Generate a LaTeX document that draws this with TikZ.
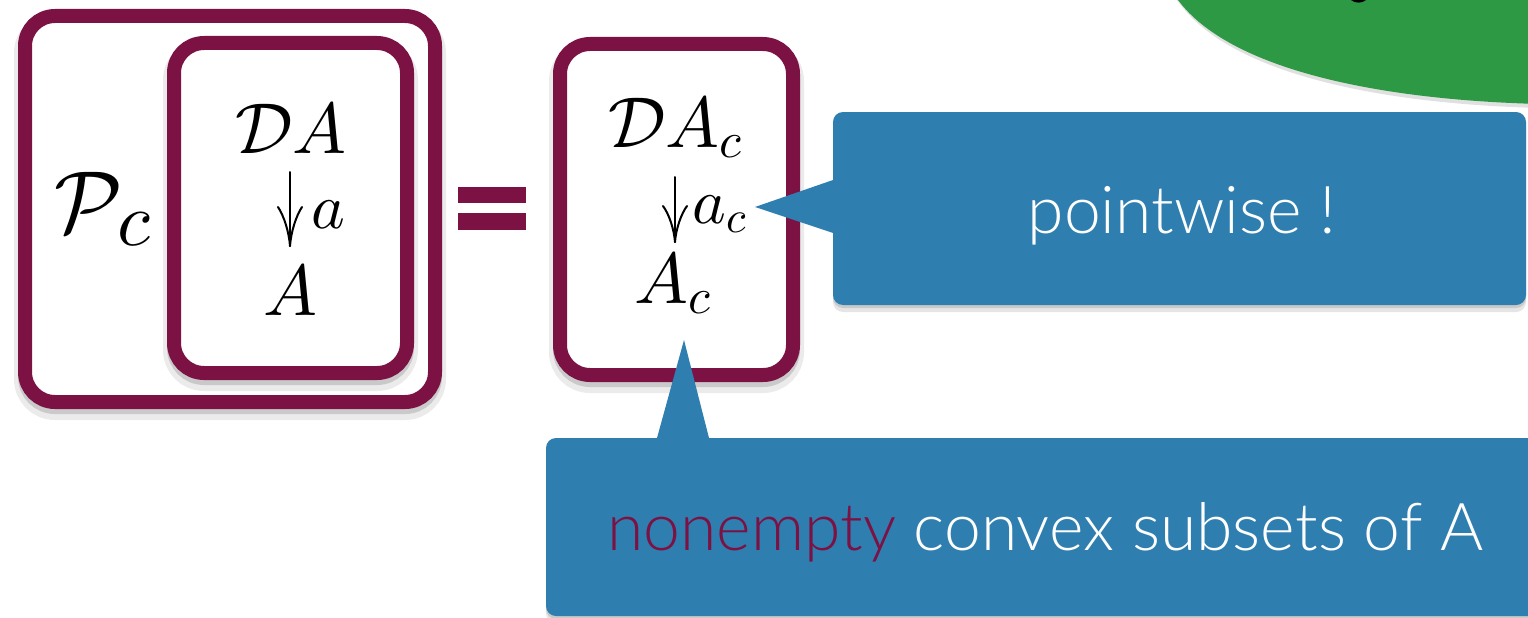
\documentclass[tikz,border=0pt]{standalone}
\usepackage[no-math]{fontspec}
\setmainfont{Liberation Sans}
\newfontfamily\lightfont{Lato Light}
\DeclareFontShape{OML}{cmm}{m}{it}{<->cmmi10}{}
\DeclareFontShape{OMS}{cmsy}{m}{n}{<->cmsy10}{}
\DeclareFontShape{OT1}{cmr}{m}{n}{<->cmr10}{}
\definecolor{maroon}{RGB}{124,18,68}
\definecolor{callblue}{RGB}{47,126,176}
\definecolor{leafgreen}{RGB}{46,153,68}
\begin{document}
\begin{tikzpicture}[x=1pt,y=-1pt,
  frame/.style={draw=maroon,line width=14pt,fill=white,rounded corners=30pt,inner sep=0pt,
    preaction={draw=black,draw opacity=.08,line width=22pt,transform canvas={yshift=-7pt}},
    preaction={draw=black,draw opacity=.14,line width=14pt,transform canvas={yshift=-5pt}}},
  callout/.style={fill=callblue,rounded corners=10pt,inner sep=0pt,
    preaction={fill=black,fill opacity=.10,transform canvas={yshift=-7pt}},
    preaction={fill=black,fill opacity=.12,transform canvas={yshift=-3pt}}},
  bigmath/.style={inner sep=0pt,font=\fontsize{72}{80}\selectfont},
  lblmath/.style={inner sep=0pt,font=\fontsize{64}{70}\selectfont},
  mapline/.style={line width=2pt,line cap=round},
  tipline/.style={line width=2pt,line cap=round,line join=round},
  calltext/.style={inner sep=0pt,text=white,font=\lightfont\fontsize{66}{72}\selectfont},
]
\useasboundingbox (0,0) rectangle (1528,618);
\clip (0,0) rectangle (1528,618);

% green shape at top right
\fill[black,opacity=.12] (1168,-10) -- (1180,4) .. controls (1232,74) and (1380,104) .. (1540,108) -- (1540,-10) -- cycle;
\fill[leafgreen] (1168,-10) -- (1178,0) .. controls (1230,70) and (1380,100) .. (1540,104) -- (1540,-10) -- cycle;
\fill[black] (1351,0) .. controls (1355,3.5) and (1362,3.5) .. (1366,0) -- cycle;

% left: outer and inner frames
\node[frame,minimum width=410pt,minimum height=386pt] (outer) at (230,209) {};
\node[frame,minimum width=233pt,minimum height=330pt] (inner) at (290.5,208) {};

\node[inner sep=0pt,anchor=base west,font=\fontsize{88}{90}\selectfont] (Pc) at (54,232)
  {$\mathcal{P}_{\mbox{\fontsize{76}{76}\selectfont$\kern2pt c$}}$};

\node[bigmath,anchor=base] (DA) at (291,153) {$\mathcal{D}A$};
\node[bigmath,anchor=base] (A) at (290,315) {$A$};
\coordinate (s1) at (290,172);
\coordinate (e1) at (290,246);
\draw[mapline] (s1) -- (e1);
\draw[tipline] (278,207) .. controls (284,216) and (289,232) .. (e1) .. controls (291,232) and (296,216) .. (302,207);
\node[lblmath,anchor=base west] (la) at (311,228) {$a$};

% equal sign
\fill[maroon] (458,187) rectangle (526,203);
\fill[maroon] (458,213) rectangle (526,230);

% right frame
\node[frame,minimum width=233pt,minimum height=331pt] (right) at (676.5,209.5) {};
\node[bigmath,anchor=base] (DAc) at (675,147) {$\mathcal{D}A_c$};
\node[bigmath,anchor=base] (Ac) at (673,303) {$A_c$};
\coordinate (s2) at (675,177);
\coordinate (e2) at (675,242);
\draw[mapline] (s2) -- (e2);
\draw[tipline] (663,206) .. controls (669,214) and (674,229) .. (e2) .. controls (676,229) and (681,214) .. (687,206);
\node[lblmath,anchor=base west] (lac) at (692,223) {$a_c$};

% callout: pointwise
\node[callout,minimum width=693pt,minimum height=193pt] (c1) at (1179.5,208.5) {};
\coordinate (t1) at (755,207);
\fill[callblue] (t1) -- (833,180) -- (840,180) -- (840,233) -- (833,233) -- cycle;
\node[calltext,anchor=base] (pw) at (1182,233) {pointwise !};

% callout: nonempty convex subsets
\node[callout,minimum width=1000pt,minimum height=178pt] (c2) at (1046,527) {};
\coordinate (t2) at (684,340);
\fill[callblue] (t2) -- (657,438) -- (657,445) -- (709,445) -- (709,438) -- cycle;
\node[calltext,anchor=base] (nc) at (1045.5,550) {\textcolor{maroon}{nonempty} convex subsets of A};
\end{tikzpicture}
\end{document}
